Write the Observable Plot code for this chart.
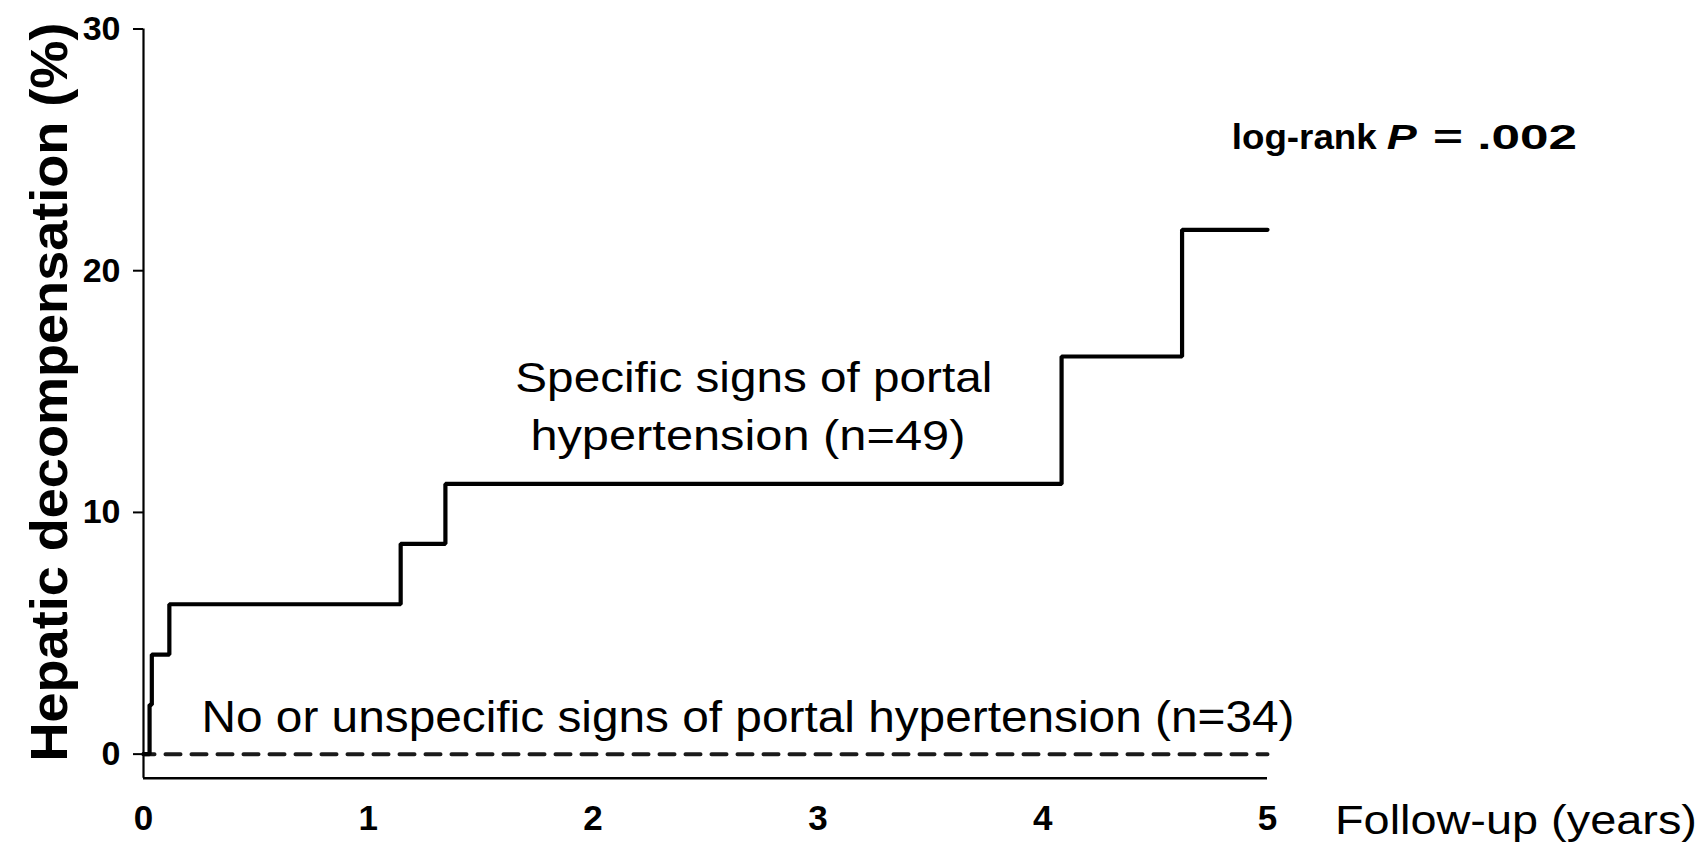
<!DOCTYPE html>
<html>
<head>
<meta charset="utf-8">
<script src="https://cdn.jsdelivr.net/npm/d3@7"></script>
<script src="https://cdn.jsdelivr.net/npm/@observablehq/plot@0.6"></script>
<style>
  html, body { margin: 0; padding: 0; background: #fff; }
  #chart { width: 1705px; height: 849px; }
</style>
</head>
<body>
<div id="chart"></div>
<script>
// ---- data ----
const specificYears = [0, 0.027, 0.037, 0.115, 1.144, 1.343, 4.084, 4.62, 5.0];
const specificPct   = [0, 2.04, 4.12, 6.2, 8.7, 11.18, 16.45, 21.69, 21.69];
const unspecificYears = [0, 5];
const unspecificPct   = [0, 0];
const xTicks = [0, 1, 2, 3, 4, 5];
const yTicks = [0, 10, 20, 30];
const xTickLabels = ["0", "1", "2", "3", "4", "5"];
const yTickLabels = ["0", "10", "20", "30"];
const xTitle = "Follow-up (years)";
const yTitle = "Hepatic decompensation (%)";
const specificLabel = ["Specific signs of portal", "hypertension (n=49)"];
const unspecificLabel = "No or unspecific signs of portal hypertension (n=34)";
const pLabel = ["log-rank", "P", "= .002"];

// ---- tables ----
const specific = specificYears.map((t, i) => ({t, p: specificPct[i]}));
const unspecific = unspecificYears.map((t, i) => ({t, p: unspecificPct[i]}));
const xTickTable = xTicks.map((v, i) => ({v, label: xTickLabels[i]}));
const yTickTable = yTicks.map((v, i) => ({v, label: yTickLabels[i]}));

// text widths (layout only)
const textWidths = new Map([
  [specificLabel[0], 477],
  [specificLabel[1], 435],
  [unspecificLabel, 1093],
  [pLabel[0], 145],
  [pLabel[1], 30],
  [pLabel[2], 144],
  [xTitle, 362],
  [yTitle, 739]
]);

const font = "'Liberation Sans', Arial, Helvetica, sans-serif";

const svg = Plot.plot({
  width: 1705,
  height: 849,
  marginLeft: 143,
  marginRight: 438,
  marginTop: 28.5,
  marginBottom: 71.2,
  x: {domain: [0, 5], axis: null},
  y: {domain: [-1, 30]},
  style: {fontFamily: font, background: "white", color: "black"},
  marks: [
    Plot.axisY({ticks: yTicks, tickSize: 10, tickFormat: () => "", strokeWidth: 2, label: null}),
    Plot.text(yTickTable, {x: 0, y: "v", text: "label", textAnchor: "end", lineAnchor: "middle", dx: -23, fontSize: 34, fontWeight: "bold", fill: "black"}),
    Plot.text(xTickTable, {x: "v", y: -1, text: "label", textAnchor: "middle", lineAnchor: "top", dy: 27, fontSize: 35, fontWeight: "bold", fill: "black"}),
    Plot.ruleX([0], {y1: -1, y2: 30, strokeWidth: 2.2}),
    Plot.ruleY([-1], {x1: 0, x2: 5, strokeWidth: 2.5}),
    Plot.line(unspecific, {x: "t", y: "p", stroke: "#1a1a1a", strokeWidth: 4, strokeDasharray: "15,11", strokeDashoffset: 4}),
    Plot.line(specific, {x: "t", y: "p", curve: "step-after", stroke: "black", strokeWidth: 4.2, strokeLinejoin: "miter"}),
    Plot.text([specificLabel[0]], {x: 1.654, y: 14.97, textAnchor: "start", lineAnchor: "bottom", fontSize: 42, fill: "black"}),
    Plot.text([specificLabel[1]], {x: 1.721, y: 12.60, textAnchor: "start", lineAnchor: "bottom", fontSize: 42, fill: "black"}),
    Plot.text([unspecificLabel], {x: 0.258, y: 0.906, textAnchor: "start", lineAnchor: "bottom", fontSize: 44, fill: "black"}),
    Plot.text([pLabel[0]], {x: 4.841, y: 25.04, textAnchor: "start", lineAnchor: "bottom", fontSize: 35, fontWeight: "bold", fill: "black"}),
    Plot.text([pLabel[1]], {x: 5.530, y: 25.04, textAnchor: "start", lineAnchor: "bottom", fontSize: 35, fontWeight: "bold", fontStyle: "italic", fill: "black"}),
    Plot.text([pLabel[2]], {x: 5.736, y: 25.04, textAnchor: "start", lineAnchor: "bottom", fontSize: 35, fontWeight: "bold", fill: "black"}),
    Plot.text([xTitle], {x: 5.30, y: -3.30, textAnchor: "start", lineAnchor: "bottom", fontSize: 40, fill: "black"}),
    Plot.text([yTitle], {x: -0.342, y: 14.98, rotate: -90, textAnchor: "middle", lineAnchor: "bottom", fontSize: 52, fontWeight: "bold", fill: "black"})
  ]
});

d3.select(svg).selectAll("text").each(function () {
  const w = textWidths.get(this.textContent);
  if (w) {
    this.setAttribute("textLength", w);
    this.setAttribute("lengthAdjust", "spacingAndGlyphs");
  }
});

document.getElementById("chart").appendChild(svg);
</script>
</body>
</html>
